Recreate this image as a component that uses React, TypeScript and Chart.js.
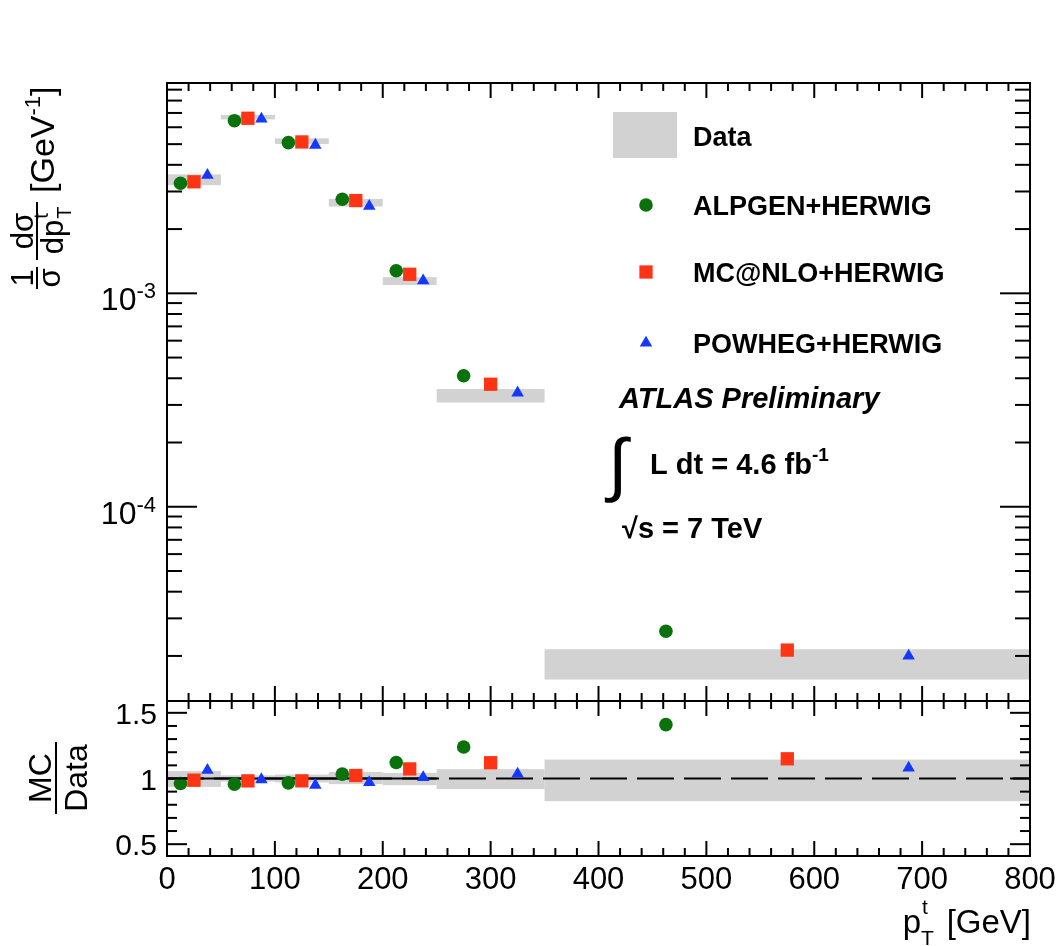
import React, { useEffect, useRef } from 'react';
import { Chart, registerables } from 'chart.js';

Chart.register(...registerables);

// ---------------- data ----------------
const binEdges = [0, 50, 100, 150, 200, 250, 350, 800];
const dataLow = [3.21e-3, 6.53e-3, 5.01e-3, 2.55e-3, 1.094e-3, 3.08e-4, 1.55e-5];
const dataHigh = [3.61e-3, 6.85e-3, 5.32e-3, 2.77e-3, 1.19e-3, 3.56e-4, 2.15e-5];
const alpgen = [3.28e-3, 6.44e-3, 5.08e-3, 2.76e-3, 1.276e-3, 4.11e-4, 2.61e-5];
const mcnlo = [3.33e-3, 6.61e-3, 5.12e-3, 2.72e-3, 1.228e-3, 3.75e-4, 2.13e-5];
const powheg = [3.58e-3, 6.56e-3, 4.95e-3, 2.56e-3, 1.146e-3, 3.42e-4, 2.0e-5];

const ratioLow = [0.936, 0.976, 0.97, 0.957, 0.949, 0.919, 0.827];
const ratioHigh = [1.056, 1.024, 1.03, 1.05, 1.043, 1.071, 1.144];
const ratioAlpgen = [0.962, 0.957, 0.967, 1.033, 1.122, 1.24, 1.41];
const ratioMcnlo = [0.987, 0.982, 0.982, 1.023, 1.073, 1.12, 1.15];
const ratioPowheg = [1.063, 0.992, 0.949, 0.97, 1.008, 1.035, 1.08];

const xTickValues = [0, 100, 200, 300, 400, 500, 600, 700, 800];
const xTickLabels = ['0', '100', '200', '300', '400', '500', '600', '700', '800'];
const logLabelExps = [-3, -4];
const ratioTickValues = [0.5, 1, 1.5];
const ratioTickLabels = ['0.5', '1', '1.5'];
const seriesNames = ['ALPGEN+HERWIG', 'MC@NLO+HERWIG', 'POWHEG+HERWIG'];
const pointFractions = [0.25, 0.5, 0.75];

// ---------------- styles ----------------
const GREEN = '#0a720a';
const RED = '#ff3414';
const BLUE = '#1438ff';
const BAND = '#d2d2d2';
const FONT = '"Liberation Sans", Arial, Helvetica, sans-serif';
const W = 1060;
const H = 946;
const TOP_LIMITS = { min: 1.23e-5, max: 9.67e-3 };
const RATIO_LIMITS = { min: 0.41, max: 1.59 };

const seriesStyles = [
  { color: GREEN, pointStyle: 'circle', radius: 6.8 },
  { color: RED, pointStyle: 'rect', radius: 9.4 },
  { color: BLUE, pointStyle: 'triangle', radius: 7.2 },
];

function binPositions(frac: number) {
  return binEdges.slice(0, -1).map((lo, i) => lo + (binEdges[i + 1] - lo) * frac);
}

function scatterSets(values: number[][]) {
  return values.map((vals, k) => ({
    label: seriesNames[k],
    data: binPositions(pointFractions[k]).map((x, i) => ({ x, y: vals[i] })),
    pointStyle: seriesStyles[k].pointStyle,
    pointRadius: seriesStyles[k].radius,
    pointBackgroundColor: seriesStyles[k].color,
    pointBorderColor: seriesStyles[k].color,
    pointBorderWidth: 0,
    showLine: false,
  }));
}

function font(size: number, weight = 'normal', style = 'normal') {
  return `${style} ${weight} ${size}px ${FONT}`;
}

function line(ctx: CanvasRenderingContext2D, x0: number, y0: number, x1: number, y1: number) {
  ctx.beginPath();
  ctx.moveTo(x0, y0);
  ctx.lineTo(x1, y1);
  ctx.stroke();
}

function drawBands(chart: any, lows: number[], highs: number[]) {
  const ctx = chart.ctx as CanvasRenderingContext2D;
  const xs = chart.scales.x;
  const ys = chart.scales.y;
  const { left, right, top, bottom } = chart.chartArea;
  ctx.save();
  ctx.beginPath();
  ctx.rect(left, top, right - left, bottom - top);
  ctx.clip();
  ctx.fillStyle = BAND;
  for (let i = 0; i < lows.length; i++) {
    const x0 = xs.getPixelForValue(binEdges[i]);
    const x1 = xs.getPixelForValue(binEdges[i + 1]);
    const y0 = ys.getPixelForValue(highs[i]);
    const y1 = ys.getPixelForValue(lows[i]);
    ctx.fillRect(x0, y0, x1 - x0, y1 - y0);
  }
  ctx.restore();
}

function drawFrame(chart: any, yTicks: { v: number; major: boolean }[], yMajor: number, yMinor: number) {
  const ctx = chart.ctx as CanvasRenderingContext2D;
  const xs = chart.scales.x;
  const ys = chart.scales.y;
  const { left, right, top, bottom } = chart.chartArea;
  ctx.save();
  ctx.strokeStyle = '#000';
  ctx.lineWidth = 2;
  ctx.strokeRect(left, top, right - left, bottom - top);
  for (let v = 0; v <= 800; v += 20) {
    const px = xs.getPixelForValue(v);
    const len = v % 100 === 0 ? 15 : 8;
    line(ctx, px, top, px, top + len);
    line(ctx, px, bottom, px, bottom - len);
  }
  for (const t of yTicks) {
    const py = ys.getPixelForValue(t.v);
    if (py < top - 0.5 || py > bottom + 0.5) continue;
    const len = t.major ? yMajor : yMinor;
    line(ctx, left, py, left + len, py);
    line(ctx, right, py, right - len, py);
  }
  ctx.restore();
}

function drawMarker(ctx: CanvasRenderingContext2D, k: number, x: number, y: number) {
  const s = seriesStyles[k];
  ctx.save();
  ctx.fillStyle = s.color;
  ctx.beginPath();
  if (s.pointStyle === 'circle') {
    ctx.arc(x, y, s.radius, 0, Math.PI * 2);
  } else if (s.pointStyle === 'rect') {
    const h = s.radius * Math.SQRT1_2;
    ctx.rect(x - h, y - h, 2 * h, 2 * h);
  } else {
    const r = s.radius;
    ctx.moveTo(x, y - r);
    ctx.lineTo(x + r * Math.sin((2 * Math.PI) / 3), y + r / 2);
    ctx.lineTo(x - r * Math.sin((2 * Math.PI) / 3), y + r / 2);
    ctx.closePath();
  }
  ctx.fill();
  ctx.restore();
}

function fraction(ctx: CanvasRenderingContext2D, cx: number, cy: number, num: () => number, den: () => number, barX: number, numBase: number, denBase: number, drawNum: (u: number, v: number) => void, drawDen: (u: number, v: number) => void, barLen: number) {
  // rotated fraction centred at original y = cy
  ctx.save();
  ctx.translate(0, cy);
  ctx.rotate(-Math.PI / 2);
  const wn = num();
  const wd = den();
  drawNum(-wn / 2, numBase);
  drawDen(-wd / 2, denBase);
  ctx.lineWidth = 2;
  ctx.strokeStyle = '#000';
  line(ctx, -barLen / 2, barX, barLen / 2, barX);
  ctx.restore();
}

const topPlugin = {
  id: 'topDecor',
  beforeDatasetsDraw(chart: any) {
    drawBands(chart, dataLow, dataHigh);
  },
  afterDraw(chart: any) {
    const ctx = chart.ctx as CanvasRenderingContext2D;
    const ys = chart.scales.y;
    const ticks: { v: number; major: boolean }[] = [];
    for (let e = -6; e <= -2; e++) {
      for (let m = 1; m <= 9; m++) ticks.push({ v: m * Math.pow(10, e), major: m === 1 });
    }
    drawFrame(chart, ticks, 30, 15);

    ctx.save();
    ctx.fillStyle = '#000';
    ctx.textBaseline = 'alphabetic';
    // log tick labels
    for (const e of logLabelExps) {
      const py = ys.getPixelForValue(Math.pow(10, e));
      ctx.font = font(32);
      const w1 = ctx.measureText('10').width;
      ctx.font = font(22);
      const sup = String(e);
      const w2 = ctx.measureText(sup).width;
      const x0 = 156 - w1 - w2;
      ctx.font = font(32);
      ctx.textAlign = 'left';
      ctx.fillText('10', x0, py + 17);
      ctx.font = font(22);
      ctx.fillText(sup, x0 + w1, py + 5);
    }

    // y title: [GeV^-1]
    ctx.save();
    ctx.translate(54, 193);
    ctx.rotate(-Math.PI / 2);
    ctx.textAlign = 'left';
    ctx.font = font(34);
    ctx.fillText('[GeV', 0, 0);
    let w = ctx.measureText('[GeV').width;
    ctx.font = font(22);
    ctx.fillText('-1', w, -14);
    w += ctx.measureText('-1').width;
    ctx.font = font(34);
    ctx.fillText(']', w, 0);
    ctx.restore();

    // fraction dσ / dp^t_T
    fraction(
      ctx, 0, 231,
      () => { ctx.font = font(31); return ctx.measureText('dσ').width; },
      () => { ctx.font = font(31); return ctx.measureText('dp').width + 12; },
      37, 33, 63,
      (u, v) => { ctx.font = font(31); ctx.textAlign = 'left'; ctx.fillText('dσ', u, v); },
      (u, v) => {
        ctx.font = font(31); ctx.textAlign = 'left'; ctx.fillText('dp', u, v);
        const wp = ctx.measureText('dp').width;
        ctx.font = font(20);
        ctx.fillText('t', u + wp + 1, v - 15);
        ctx.fillText('T', u + wp + 1, v + 8);
      },
      58,
    );
    // fraction 1 / σ
    fraction(
      ctx, 0, 278,
      () => { ctx.font = font(31); return ctx.measureText('1').width; },
      () => { ctx.font = font(31); return ctx.measureText('σ').width; },
      37, 33, 60,
      (u, v) => { ctx.font = font(31); ctx.textAlign = 'left'; ctx.fillText('1', u, v); },
      (u, v) => { ctx.font = font(31); ctx.textAlign = 'left'; ctx.fillText('σ', u, v); },
      22,
    );

    // legend
    ctx.fillStyle = BAND;
    ctx.fillRect(613, 112, 64, 46);
    ctx.fillStyle = '#000';
    ctx.font = font(27, 'bold');
    ctx.textAlign = 'left';
    ctx.fillText('Data', 693, 146);
    const legendY = [205, 272, 343];
    seriesNames.forEach((name, k) => {
      drawMarker(ctx, k, 646, legendY[k]);
      ctx.fillStyle = '#000';
      ctx.font = font(27, 'bold');
      ctx.fillText(name, 693, legendY[k] + 10);
    });

    // ATLAS labels
    ctx.font = font(29, 'bold', 'italic');
    ctx.fillText('ATLAS Preliminary', 619, 408);
    ctx.font = font(70);
    ctx.fillText('∫', 608, 488);
    ctx.font = font(29, 'bold');
    ctx.fillText('L dt = 4.6 fb', 650, 474);
    const wl = ctx.measureText('L dt = 4.6 fb').width;
    ctx.font = font(19, 'bold');
    ctx.fillText('-1', 650 + wl, 461);
    ctx.font = font(29, 'bold');
    ctx.fillText('√s = 7 TeV', 622, 538);
    ctx.restore();
  },
};

const bottomPlugin = {
  id: 'bottomDecor',
  beforeDatasetsDraw(chart: any) {
    drawBands(chart, ratioLow, ratioHigh);
  },
  afterDraw(chart: any) {
    const ctx = chart.ctx as CanvasRenderingContext2D;
    const xs = chart.scales.x;
    const ys = chart.scales.y;
    const ticks: { v: number; major: boolean }[] = [];
    for (let i = 4; i <= 16; i++) ticks.push({ v: i / 10, major: i % 5 === 0 });
    drawFrame(chart, ticks, 20, 10);

    ctx.save();
    ctx.fillStyle = '#000';
    ctx.textBaseline = 'alphabetic';
    ctx.font = font(30);
    ctx.textAlign = 'right';
    ratioTickValues.forEach((v, i) => {
      ctx.fillText(ratioTickLabels[i], 157, ys.getPixelForValue(v) + 11);
    });
    ctx.font = font(31);
    ctx.textAlign = 'center';
    xTickValues.forEach((v, i) => {
      ctx.fillText(xTickLabels[i], xs.getPixelForValue(v), 889);
    });

    // x title
    ctx.font = font(33);
    ctx.textAlign = 'right';
    ctx.fillText('[GeV]', 1031, 933);
    ctx.fillText('p', 921, 933);
    ctx.textAlign = 'left';
    ctx.font = font(21);
    ctx.fillText('t', 922, 914);
    ctx.fillText('T', 921, 945);

    // y title MC / Data
    fraction(
      ctx, 0, 778,
      () => { ctx.font = font(32); return ctx.measureText('MC').width; },
      () => { ctx.font = font(32); return ctx.measureText('Data').width; },
      56, 51, 87,
      (u, v) => { ctx.font = font(32); ctx.textAlign = 'left'; ctx.fillText('MC', u, v); },
      (u, v) => { ctx.font = font(32); ctx.textAlign = 'left'; ctx.fillText('Data', u, v); },
      72,
    );
    ctx.restore();
  },
};

export default function App() {
  const topRef = useRef<HTMLCanvasElement>(null);
  const botRef = useRef<HTMLCanvasElement>(null);

  useEffect(() => {
    const common = {
      responsive: false,
      animation: false as const,
      events: [] as any[],
      plugins: { legend: { display: false }, tooltip: { enabled: false } },
    };
    const top = new Chart(topRef.current!, {
      type: 'scatter',
      data: { datasets: scatterSets([alpgen, mcnlo, powheg]) as any },
      options: {
        ...common,
        layout: { padding: { left: 167, right: 30, top: 83, bottom: H - 701 } },
        scales: {
          x: { type: 'linear', min: 0, max: 800, display: false },
          y: { type: 'logarithmic', min: TOP_LIMITS.min, max: TOP_LIMITS.max, display: false },
        },
      } as any,
      plugins: [topPlugin],
    });
    const bottom = new Chart(botRef.current!, {
      type: 'scatter',
      data: {
        datasets: [
          ...scatterSets([ratioAlpgen, ratioMcnlo, ratioPowheg]),
          {
            label: 'unity',
            data: [{ x: 0, y: 1 }, { x: 800, y: 1 }],
            showLine: true,
            borderColor: '#000',
            borderWidth: 2,
            borderDash: [37, 10],
            pointRadius: 0,
          },
          {
            label: 'unity-solid',
            data: [{ x: 0, y: 1 }, { x: 250, y: 1 }],
            showLine: true,
            borderColor: '#000',
            borderWidth: 2,
            pointRadius: 0,
          },
        ] as any,
      },
      options: {
        ...common,
        layout: { padding: { left: 167, right: 30, top: 701, bottom: H - 856 } },
        scales: {
          x: { type: 'linear', min: 0, max: 800, display: false },
          y: { type: 'linear', min: RATIO_LIMITS.min, max: RATIO_LIMITS.max, display: false },
        },
      } as any,
      plugins: [bottomPlugin],
    });
    return () => {
      top.destroy();
      bottom.destroy();
    };
  }, []);

  const canvasStyle: React.CSSProperties = { position: 'absolute', left: 0, top: 0, width: W, height: H };
  return (
    <div style={{ position: 'absolute', left: 0, top: 0, width: W, height: H, background: '#fff' }}>
      <canvas ref={topRef} width={W} height={H} style={canvasStyle} />
      <canvas ref={botRef} width={W} height={H} style={canvasStyle} />
    </div>
  );
}
